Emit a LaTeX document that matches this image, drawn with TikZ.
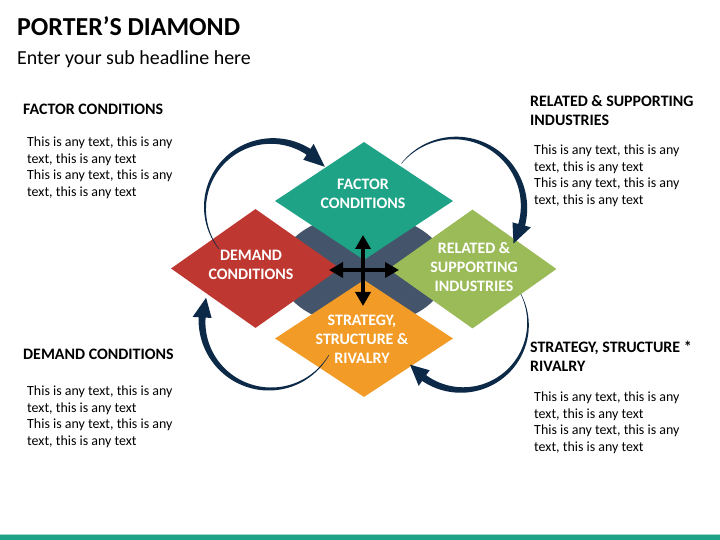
\documentclass[tikz,border=0pt]{standalone}
\usepackage{fontspec}
\setmainfont{Carlito}
\usetikzlibrary{shapes.geometric,arrows.meta}
\definecolor{pteal}{RGB}{30,163,134}
\definecolor{pred}{RGB}{190,55,48}
\definecolor{pgreen}{RGB}{155,187,89}
\definecolor{porange}{RGB}{242,155,38}
\definecolor{pgray}{RGB}{68,84,106}
\definecolor{pnavy}{RGB}{12,42,72}
\definecolor{plight}{RGB}{165,215,200}
% #1 centre, #2 radius, #3 tail angle, #4 body end angle, #5 tip angle
\newcommand\taperarrow[5]{%
  \fill[pnavy, shift={#1}]
    plot[domain=#3:#4, samples=70, variable=\t]
      ({\t}:{#2 + 0.5*(0.4 + 6.6*(\t-#3)/(#4-#3))})
    -- ({#4}:{#2+9.5}) -- ({#5}:{#2}) -- ({#4}:{#2-9.5})
    -- plot[domain=#4:#3, samples=70, variable=\t]
      ({\t}:{#2 - 0.5*(0.4 + 6.6*(\t-#3)/(#4-#3))})
    -- cycle;}
\tikzset{
  dia/.style={diamond, draw=none, inner sep=0pt},
  dtext/.style={text=white, font=\bfseries\fontsize{16}{19}\selectfont, align=center, inner sep=0pt},
  head/.style={anchor=base west, inner sep=0pt, font=\bfseries\fontsize{16}{19}\selectfont},
  body/.style={anchor=base west, inner sep=0pt, font=\fontsize{14}{16.6}\selectfont},
  cross/.style={line width=4bp, black, {Triangle[width=15bp,length=14bp]}-{Triangle[width=15bp,length=14bp]}}
}
\begin{document}
\begin{tikzpicture}[x=1bp,y=1bp]
\useasboundingbox (0,0) rectangle (720,540);
\fill[white] (0,0) rectangle (720,540);
% title
\node[anchor=base west, inner sep=0pt, font=\bfseries\fontsize{26}{30}\selectfont] (title) at (17,504) {PORTER’S DIAMOND};
\node[anchor=base west, inner sep=0pt, font=\fontsize{20}{24}\selectfont] (sub) at (17,475) {Enter your sub headline here};
% back shape
\fill[pgray] (363,270) ellipse [x radius=84, y radius=56];
% diamonds
\node[dia, fill=pteal, minimum width=178bp, minimum height=118bp] (factor) at (364,339) {};
\node[dia, fill=pred, minimum width=169bp, minimum height=119bp] (demand) at (255.5,271.5) {};
\node[dia, fill=pgreen, minimum width=168bp, minimum height=119bp] (related) at (472.5,271) {};
\node[dia, fill=porange, minimum width=178bp, minimum height=117bp] (strategy) at (364,201.5) {};
\node[dtext] (factort) at (363,346.5) {FACTOR\\CONDITIONS};
\node[dtext] (demandt) at (251,275.5) {DEMAND\\CONDITIONS};
\node[dtext] (relatedt) at (474,273) {RELATED \&\\SUPPORTING\\INDUSTRIES};
\node[dtext] (strategyt) at (362,201) {STRATEGY,\\STRUCTURE \&\\RIVALRY};
% centre cross
\coordinate (cup) at (363,305);
\coordinate (cdown) at (363,234);
\coordinate (cleft) at (329,270);
\coordinate (cright) at (399,270);
\draw[cross] (cdown) -- (cup);
\draw[cross] (cleft) -- (cright);
% circular arrows
\taperarrow{(272,332)}{67}{218}{57}{38}
\taperarrow{(455,333)}{69}{141}{-15}{-32}
\taperarrow{(462,216)}{66}{27}{-125}{-142}
\taperarrow{(270,219)}{68}{-30}{-183}{-200}
% side texts
\node[head] (h1) at (23,425.5) {FACTOR CONDITIONS};
\node[body] (b1) at (27,393.5) {\begin{tabular}[t]{@{}l@{}}This is any text, this is any\\text, this is any text\\This is any text, this is any\\text, this is any text\end{tabular}};
\node[head] (h2) at (530,433.5) {\begin{tabular}[t]{@{}l@{}}RELATED \& SUPPORTING\\INDUSTRIES\end{tabular}};
\node[body] (b2) at (534,385.5) {\begin{tabular}[t]{@{}l@{}}This is any text, this is any\\text, this is any text\\This is any text, this is any\\text, this is any text\end{tabular}};
\node[head] (h3) at (23,180) {DEMAND CONDITIONS};
\node[body] (b3) at (27,144.5) {\begin{tabular}[t]{@{}l@{}}This is any text, this is any\\text, this is any text\\This is any text, this is any\\text, this is any text\end{tabular}};
\node[head] (h4) at (530,187) {\begin{tabular}[t]{@{}l@{}}STRATEGY, STRUCTURE *\\RIVALRY\end{tabular}};
\node[body] (b4) at (534,138.5) {\begin{tabular}[t]{@{}l@{}}This is any text, this is any\\text, this is any text\\This is any text, this is any\\text, this is any text\end{tabular}};
% bottom bar
\fill[pteal] (0,0) rectangle (720,5);
\fill[plight] (0,5) rectangle (720,6.2);
\end{tikzpicture}
\end{document}
